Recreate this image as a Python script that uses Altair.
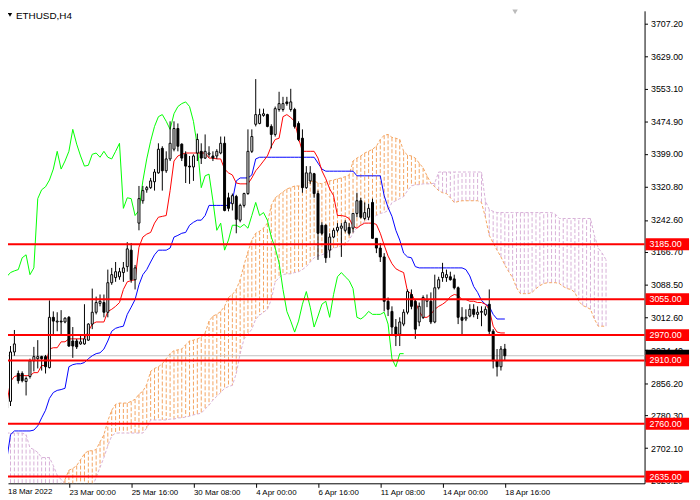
import altair as alt
import pandas as pd

FONT = "Liberation Sans"

opens = [2797, 2813, 2930, 2879, 2879, 2860, 2872, 2909, 2914, 2919,
         2919, 2893, 3012, 3001, 3003, 3001, 3012, 2956, 2956, 2949,
         2949, 2958, 2996, 3024, 3045, 3047, 3024, 3094, 3106, 3108,
         3118, 3132, 3171, 3101, 3235, 3288, 3314, 3319, 3333, 3354,
         3412, 3359, 3387, 3410, 3459, 3422, 3398, 3370, 3368, 3401,
         3405, 3389, 3398, 3394, 3394, 3401, 3424, 3295, 3281, 3298,
         3242, 3277, 3305, 3405, 3469, 3471, 3490, 3492, 3464, 3445,
         3504, 3504, 3522, 3504, 3504, 3471, 3436, 3319, 3335, 3352,
         3305, 3230, 3230, 3171, 3202, 3218, 3223, 3218, 3225, 3223,
         3258, 3288, 3246, 3249, 3284, 3199, 3176, 3155, 3050, 3026,
         2989, 2972, 2996, 3024, 3066, 3050, 3001, 3012, 3050, 3050,
         3001, 3082, 3106, 3106, 3108, 3103, 3082, 3012, 3008, 3015,
         3031, 3019, 3024, 3019, 3043, 2979, 2909, 2895, 2937]
highs = [2844, 2944, 2982, 2886, 2884, 2872, 2914, 2942, 2958, 2921,
         2923, 3052, 3026, 3024, 3029, 3012, 3015, 2989, 2961, 2968,
         3043, 2998, 3080, 3061, 3066, 3066, 3125, 3129, 3143, 3129,
         3143, 3190, 3188, 3136, 3323, 3323, 3323, 3342, 3363, 3424,
         3417, 3405, 3476, 3476, 3471, 3424, 3405, 3394, 3398, 3447,
         3424, 3445, 3417, 3405, 3410, 3440, 3440, 3307, 3305, 3302,
         3281, 3307, 3457, 3457, 3576, 3506, 3506, 3494, 3469, 3511,
         3546, 3534, 3534, 3553, 3508, 3476, 3457, 3370, 3370, 3354,
         3312, 3237, 3232, 3211, 3223, 3235, 3235, 3242, 3235, 3258,
         3307, 3295, 3284, 3281, 3293, 3199, 3188, 3164, 3059, 3038,
         3008, 3012, 3031, 3078, 3078, 3054, 3047, 3064, 3066, 3071,
         3113, 3108, 3141, 3125, 3120, 3113, 3085, 3036, 3031, 3043,
         3043, 3038, 3038, 3038, 3078, 2984, 2937, 2944, 2949]
lows = [2778, 2802, 2921, 2855, 2858, 2827, 2867, 2884, 2891, 2886,
        2879, 2891, 2968, 2979, 2968, 2998, 2942, 2916, 2937, 2947,
        2947, 2956, 2984, 3019, 3038, 3012, 3012, 3089, 3096, 3101,
        3096, 3120, 3094, 3078, 3218, 3281, 3307, 3316, 3312, 3352,
        3312, 3354, 3382, 3405, 3405, 3382, 3330, 3328, 3335, 3382,
        3375, 3387, 3391, 3382, 3387, 3398, 3263, 3263, 3265, 3211,
        3237, 3272, 3302, 3401, 3464, 3469, 3487, 3462, 3412, 3440,
        3499, 3499, 3513, 3499, 3459, 3429, 3307, 3316, 3328, 3295,
        3148, 3206, 3141, 3153, 3199, 3213, 3155, 3213, 3206, 3213,
        3249, 3246, 3242, 3242, 3199, 3164, 3143, 3026, 3015, 2968,
        2944, 2944, 2991, 3019, 3031, 2961, 2991, 3008, 3036, 2996,
        2998, 3078, 3096, 3096, 3099, 3078, 2996, 2972, 3003, 3012,
        3012, 3008, 2991, 3015, 2972, 2891, 2872, 2886, 2909]
closes = [2832, 2930, 2949, 2862, 2862, 2867, 2909, 2919, 2919, 2914,
          2895, 3012, 3003, 3003, 3001, 3010, 2944, 2944, 2942, 2954,
          2961, 2996, 3024, 3047, 3050, 3024, 3094, 3113, 3120, 3120,
          3129, 3174, 3101, 3129, 3293, 3312, 3319, 3335, 3356, 3410,
          3359, 3387, 3424, 3459, 3417, 3389, 3370, 3368, 3394, 3433,
          3389, 3405, 3401, 3389, 3405, 3424, 3265, 3270, 3300, 3244,
          3277, 3305, 3405, 3440, 3492, 3492, 3494, 3464, 3445, 3506,
          3518, 3518, 3518, 3522, 3464, 3433, 3319, 3354, 3354, 3305,
          3211, 3211, 3153, 3202, 3218, 3225, 3228, 3237, 3211, 3258,
          3288, 3249, 3260, 3270, 3199, 3176, 3155, 3050, 3031, 2989,
          2968, 3001, 3024, 3073, 3038, 2984, 3038, 3059, 3054, 3001,
          3082, 3101, 3118, 3113, 3101, 3082, 3012, 3005, 3012, 3031,
          3019, 3024, 3026, 3031, 2979, 2909, 2895, 2937, 2921]

tenkan = [2804, 2860, 2872, 2874, 2874, 2874, 2874, 2881, 2881, 2898,
          2898, 2937, 2940, 2940, 2954, 2954, 2961, 2961, 2961, 2961,
          2961, 2979, 2996, 3001, 3001, 3001, 3026, 3031, 3038, 3047,
          3078, 3096, 3099, 3101, 3178, 3202, 3209, 3213, 3235, 3249,
          3251, 3253, 3312, 3382, 3394, 3398, 3401, 3401, 3401, 3401,
          3401, 3401, 3389, 3389, 3387, 3387, 3363, 3354, 3349, 3330,
          3328, 3328, 3328, 3342, 3359, 3370, 3382, 3394, 3417, 3433,
          3436, 3487, 3492, 3485, 3476, 3436, 3405, 3405, 3405, 3405,
          3389, 3359, 3340, 3316, 3300, 3253, 3253, 3251, 3246, 3228,
          3223, 3230, 3235, 3235, 3235, 3232, 3211, 3183, 3157, 3139,
          3127, 3122, 3118, 3073, 3068, 3050, 3026, 3012, 3012, 3019,
          3031, 3038, 3043, 3050, 3061, 3066, 3064, 3054, 3054, 3050,
          3050, 3047, 3047, 3043, 3031, 2991, 2977, 2975, 2975]
kijun = [2673, 2734, 2743, 2743, 2743, 2743, 2743, 2745, 2755, 2774,
         2792, 2820, 2834, 2839, 2841, 2844, 2895, 2900, 2902, 2902,
         2905, 2914, 2921, 2926, 2928, 2937, 2956, 2979, 2986, 2989,
         2991, 3019, 3036, 3054, 3089, 3113, 3125, 3143, 3160, 3171,
         3171, 3171, 3176, 3202, 3206, 3211, 3213, 3230, 3237, 3242,
         3242, 3253, 3277, 3277, 3277, 3277, 3277, 3277, 3288, 3335,
         3342, 3342, 3342, 3349, 3387, 3391, 3391, 3391, 3391, 3391,
         3391, 3391, 3391, 3391, 3391, 3391, 3391, 3391, 3391, 3391,
         3377, 3363, 3358, 3358, 3358, 3358, 3358, 3358, 3358, 3358,
         3347, 3347, 3347, 3347, 3347, 3347, 3347, 3300, 3272, 3251,
         3218, 3195, 3164, 3155, 3153, 3132, 3129, 3129, 3129, 3129,
         3129, 3129, 3129, 3129, 3129, 3129, 3129, 3129, 3125, 3110,
         3085, 3071, 3052, 3043, 3038, 3019, 3008, 3008, 3008]
chikou = [3108, 3118, 3122, 3125, 3153, 3160, 3113, 3129, 3293, 3314,
          3321, 3337, 3363, 3405, 3363, 3382, 3405, 3457, 3422, 3394,
          3370, 3372, 3398, 3401, 3391, 3405, 3391, 3387, 3405, 3424,
          3270, 3295, 3293, 3253, 3265, 3335, 3387, 3429, 3464, 3487,
          3492, 3476, 3457, 3494, 3511, 3518, 3522, 3511, 3476, 3417,
          3319, 3347, 3351, 3288, 3218, 3235, 3171, 3195, 3230, 3230,
          3225, 3232, 3223, 3253, 3284, 3253, 3260, 3242, 3202, 3176,
          3141, 3078, 3026, 3003, 2977, 3003, 3043, 3073, 3036, 2989,
          3015, 3043, 3050, 3012, 3066, 3108, 3118, 3108, 3099, 3080,
          3012, 3008, 3015, 3026, 3019, 3019, 3019, 3024, 2996, 2914,
          2895, 2926, 2926]
span_a = [2563, 2563, 2563, 2563, 2563, 2563, 2563, 2563, 2563, 2563,
          2563, 2563, 2563, 2563, 2598, 2628, 2650, 2654, 2661, 2675,
          2689, 2696, 2696, 2699, 2717, 2734, 2767, 2792, 2806, 2809,
          2809, 2809, 2813, 2818, 2830, 2837, 2853, 2884, 2891, 2895,
          2902, 2914, 2926, 2933, 2935, 2937, 2947, 2956, 2958, 2961,
          2965, 2975, 3003, 3015, 3019, 3026, 3038, 3059, 3066, 3078,
          3101, 3136, 3167, 3195, 3211, 3216, 3223, 3235, 3277, 3295,
          3302, 3309, 3316, 3319, 3323, 3323, 3323, 3328, 3333, 3335,
          3330, 3328, 3333, 3335, 3337, 3340, 3342, 3345, 3349, 3382,
          3389, 3394, 3401, 3405, 3410, 3417, 3433, 3443, 3445, 3438,
          3436, 3433, 3405, 3396, 3394, 3389, 3377, 3366, 3347, 3330,
          3321, 3312, 3307, 3305, 3295, 3284, 3286, 3288, 3288, 3288,
          3288, 3288, 3284, 3249, 3206, 3188, 3171, 3155, 3136, 3120,
          3106, 3082, 3068, 3068, 3068, 3071, 3080, 3087, 3092, 3094,
          3094, 3094, 3092, 3085, 3080, 3078, 3071, 3050, 3040, 3036,
          3031, 3008, 2991, 2991, 2991]
span_b = [2738, 2738, 2738, 2738, 2738, 2734, 2703, 2699, 2692, 2680,
          2680, 2680, 2661, 2638, 2628, 2619, 2605, 2598, 2593, 2593,
          2593, 2598, 2610, 2633, 2657, 2680, 2708, 2731, 2738, 2738,
          2738, 2738, 2738, 2738, 2738, 2738, 2750, 2769, 2769, 2769,
          2769, 2769, 2771, 2771, 2774, 2774, 2776, 2778, 2781, 2783,
          2785, 2795, 2804, 2816, 2825, 2834, 2844, 2848, 2851, 2879,
          2926, 2961, 2972, 2984, 3008, 3017, 3024, 3031, 3054, 3096,
          3106, 3113, 3115, 3115, 3118, 3120, 3125, 3132, 3143, 3153,
          3157, 3160, 3164, 3169, 3176, 3178, 3181, 3183, 3195, 3211,
          3225, 3232, 3239, 3246, 3249, 3253, 3258, 3260, 3265, 3284,
          3288, 3293, 3298, 3312, 3323, 3326, 3326, 3328, 3328, 3328,
          3330, 3356, 3356, 3356, 3356, 3356, 3356, 3356, 3356, 3356,
          3356, 3356, 3356, 3288, 3267, 3263, 3260, 3260, 3260, 3260,
          3260, 3260, 3260, 3260, 3260, 3260, 3260, 3260, 3260, 3260,
          3260, 3256, 3246, 3246, 3246, 3246, 3246, 3246, 3246, 3246,
          3246, 3206, 3176, 3164, 3148]

levels = [3185.0, 3055.0, 2970.0, 2910.0, 2760.0, 2635.0]
bid = [2921.0]
price_ticks = [3707.2, 3629.0, 3553.1, 3474.9, 3399.0, 3320.8, 3242.6, 3166.7,
               3088.5, 3012.6, 2934.4, 2856.2, 2780.3, 2702.1, 2626.2]
date_ticks = [16, 32, 48, 64, 80, 96, 112, 128]
date_labels = ["23 Mar 00:00", "25 Mar 16:00", "30 Mar 08:00", "4 Apr 00:00",
               "6 Apr 16:00", "11 Apr 08:00", "14 Apr 00:00", "18 Apr 16:00"]
first_date = "18 Mar 2022"
symbol = "ETHUSD,H4"

W, H = 644, 478
ORANGE = "#F4A460"
PLUM = "#D8B0D8"

xs = alt.Scale(domain=[1.625, 162.625], nice=False, zero=False)
ys = alt.Scale(domain=[2619.0, 3737.6], nice=False, zero=False)

expr = ""
for v, lab in zip(date_ticks, date_labels):
    expr += f"datum.value == {v} ? '{lab}' : "
expr += "''"

xaxis = alt.Axis(values=date_ticks, labelExpr=expr, labelAlign="left", labelBaseline="top",
                 labelOffset=0, labelPadding=1, tickSize=4, labelFontSize=8, labelFont=FONT,
                 labelColor="black", tickColor="black", domainColor="black", grid=False,
                 title=None, labelFlush=False, labelOverlap=False, orient="bottom")
yaxis = alt.Axis(orient="right", values=price_ticks, format=".2f", tickSize=3, labelPadding=3,
                 labelFontSize=9, labelFont=FONT, labelColor="black", tickColor="black",
                 domainColor="black", grid=False, title=None, labelFlush=False,
                 labelOverlap=False, labelBaseline="middle", labelAlign="left")


def X(f="bar"):
    return alt.X(f"{f}:Q", scale=xs, axis=xaxis)


def Y(f):
    return alt.Y(f"{f}:Q", scale=ys, axis=yaxis)


n = len(opens)
cd = pd.DataFrame({"bar": list(range(n)), "o": opens, "h": highs, "l": lows, "c": closes})
cd["top"] = cd[["o", "c"]].max(axis=1)
cd["bot"] = cd[["o", "c"]].min(axis=1)

cl = pd.DataFrame({"bar": list(range(len(span_a))), "a": span_a, "b": span_b})
cl["kind"] = ["up" if a >= b else "down" for a, b in zip(span_a, span_b)]

ind = pd.DataFrame({"bar": list(range(n)), "tenkan": tenkan, "kijun": kijun})
ch = pd.DataFrame({"bar": list(range(len(chikou))), "v": chikou})
lv = pd.DataFrame({"p": levels, "t": [f"{v:.2f}" for v in levels]})
bd = pd.DataFrame({"p": bid})

hatch = alt.Chart(cl).mark_rule(strokeDash=[4, 2], strokeWidth=1, clip=True).encode(
    x=X(), y=Y("a"), y2="b:Q",
    color=alt.Color("kind:N", scale=alt.Scale(domain=["up", "down"], range=[ORANGE, PLUM]), legend=None))
la = alt.Chart(cl).mark_line(color=ORANGE, strokeDash=[3, 2], strokeWidth=1, clip=True).encode(x=X(), y=Y("a"))
lb = alt.Chart(cl).mark_line(color=PLUM, strokeDash=[3, 2], strokeWidth=1, clip=True).encode(x=X(), y=Y("b"))
bidline = alt.Chart(bd).mark_rule(color="#C0C0C0", strokeWidth=1).encode(y=Y("p"))
chik = alt.Chart(ch).mark_line(color="#00FF00", strokeWidth=1, clip=True).encode(x=X(), y=Y("v"))
kij = alt.Chart(ind).mark_line(color="#0000FF", strokeWidth=1, clip=True).encode(x=X(), y=Y("kijun"))
ten = alt.Chart(ind).mark_line(color="#FF0000", strokeWidth=1, clip=True).encode(x=X(), y=Y("tenkan"))
wick = alt.Chart(cd).mark_rule(color="black", strokeWidth=1, clip=True).encode(x=X(), y=Y("l"), y2="h:Q")
body = alt.Chart(cd).mark_bar(size=2, stroke="black", strokeWidth=1, clip=True).encode(
    x=X(), y=Y("bot"), y2="top:Q",
    fill=alt.condition("datum.c >= datum.o", alt.value("white"), alt.value("black")))
lvl = alt.Chart(lv).mark_rule(color="#FF0000", strokeWidth=2).encode(y=Y("p"))
bidbox = alt.Chart(bd).mark_tick(orient="horizontal", size=44, thickness=12, color="black", opacity=1).encode(
    x=alt.value(667), y=Y("p"))
boxes = alt.Chart(lv).mark_tick(orient="horizontal", size=44, thickness=12, color="#FF0000", opacity=1).encode(
    x=alt.value(667), y=Y("p"))
texts = alt.Chart(lv).mark_text(align="left", baseline="middle", color="white", fontSize=9, font=FONT).encode(
    x=alt.value(649), y=Y("p"), text="t:N")

tri = alt.Chart(pd.DataFrame({"s": [symbol]})).mark_point(shape="triangle-down", filled=True, color="black",
                                                          size=20, opacity=1).encode(
    x=alt.value(2), y=alt.value(4))
title = alt.Chart(pd.DataFrame({"s": [symbol]})).mark_text(align="left", baseline="top", fontSize=10,
                                                           font=FONT, color="black").encode(
    x=alt.value(8), y=alt.value(0), text="s:N")
shift = alt.Chart(pd.DataFrame({"s": [symbol]})).mark_point(shape="triangle-down", filled=True, color="#BBBBBB",
                                                            size=30, opacity=1).encode(
    x=alt.value(513), y=alt.value(1))
d0 = alt.Chart(pd.DataFrame({"s": [first_date]})).mark_text(align="left", baseline="top", fontSize=8,
                                                            font=FONT, color="black").encode(
    x=alt.value(0), y=alt.value(H + 5), text="s:N")

chart = alt.layer(hatch, la, lb, bidline, chik, kij, ten, wick, body, lvl, bidbox, boxes, texts,
                  tri, title, shift, d0).properties(
    width=W, height=H,
    autosize=alt.AutoSizeParams(type="none"),
    padding={"left": 0, "top": 0, "right": 48, "bottom": 14},
    background="white",
).configure_view(stroke=None)

chart.save("out.html", embed_options={"renderer": "svg", "actions": False})
